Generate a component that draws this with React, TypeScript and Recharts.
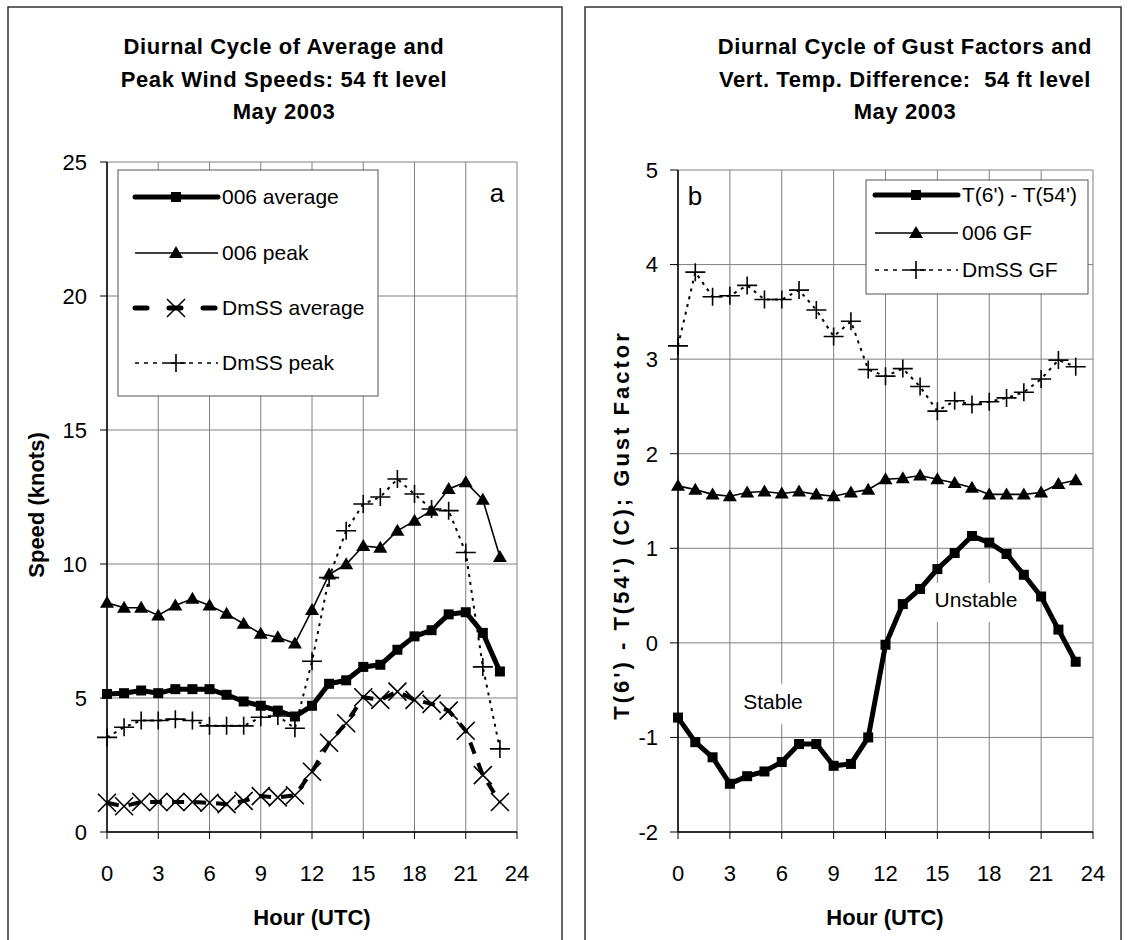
import { CartesianGrid, Line, LineChart, XAxis, YAxis } from "recharts";

const FONT = "'Liberation Sans', Arial, sans-serif";

// hours of the day (UTC)
const hours = [0, 1, 2, 3, 4, 5, 6, 7, 8, 9, 10, 11, 12, 13, 14, 15, 16, 17, 18, 19, 20, 21, 22, 23];
const hourTicks = [0, 3, 6, 9, 12, 15, 18, 21, 24];

// panel a: wind speeds (knots)
const speedTicks = [0, 5, 10, 15, 20, 25];
const avg006 = [5.15, 5.18, 5.28, 5.18, 5.33, 5.33, 5.33, 5.12, 4.87, 4.71, 4.53, 4.31, 4.71, 5.53, 5.66, 6.16, 6.24, 6.8, 7.3, 7.53, 8.12, 8.2, 7.43, 5.99];
const peak006 = [8.55, 8.37, 8.37, 8.08, 8.45, 8.7, 8.45, 8.14, 7.77, 7.4, 7.27, 7.03, 8.28, 9.61, 9.99, 10.67, 10.61, 11.24, 11.61, 11.99, 12.8, 13.05, 12.4, 10.26];
const avgDmss = [1.09, 0.96, 1.12, 1.12, 1.12, 1.12, 1.09, 1.04, 1.16, 1.34, 1.29, 1.37, 2.25, 3.33, 4.06, 5.03, 4.93, 5.24, 4.93, 4.78, 4.53, 3.78, 2.12, 1.12];
const peakDmss = [3.53, 3.91, 4.16, 4.16, 4.21, 4.16, 3.96, 3.96, 3.96, 4.28, 4.33, 3.87, 6.37, 9.49, 11.24, 12.24, 12.5, 13.17, 12.61, 12.05, 11.99, 10.43, 6.16, 3.1];

// panel b: temperature difference (C) and gust factors
const rightTicks = [-2, -1, 0, 1, 2, 3, 4, 5];
const tempDiff = [-0.79, -1.05, -1.21, -1.49, -1.41, -1.36, -1.26, -1.07, -1.07, -1.3, -1.28, -1.0, -0.02, 0.41, 0.57, 0.78, 0.95, 1.13, 1.06, 0.94, 0.72, 0.49, 0.14, -0.2];
const gf006 = [1.66, 1.62, 1.57, 1.55, 1.59, 1.6, 1.58, 1.6, 1.57, 1.55, 1.59, 1.62, 1.73, 1.74, 1.77, 1.73, 1.69, 1.64, 1.57, 1.57, 1.57, 1.59, 1.68, 1.72];
const gfDmss = [3.14, 3.92, 3.66, 3.67, 3.78, 3.63, 3.63, 3.73, 3.52, 3.24, 3.4, 2.89, 2.82, 2.9, 2.71, 2.45, 2.56, 2.52, 2.55, 2.59, 2.65, 2.79, 2.99, 2.92];

const speedRows = hours.map((h, i) => ({
  hour: h,
  avg006: avg006[i],
  peak006: peak006[i],
  avgDmss: avgDmss[i],
  peakDmss: peakDmss[i],
}));

const gustRows = hours.map((h, i) => ({
  hour: h,
  tempDiff: tempDiff[i],
  gf006: gf006[i],
  gfDmss: gfDmss[i],
}));

type P = { cx: number; cy: number };

const Square = ({ cx, cy }: P) => <rect x={cx - 5} y={cy - 5} width={10} height={10} fill="#000" />;
const Triangle = ({ cx, cy }: P) => (
  <polygon points={`${cx},${cy - 7} ${cx - 7},${cy + 5} ${cx + 7},${cy + 5}`} fill="#000" />
);
const Cross = ({ cx, cy }: P) => (
  <path d={`M${cx - 9},${cy - 9}L${cx + 9},${cy + 9}M${cx - 9},${cy + 9}L${cx + 9},${cy - 9}`} stroke="#000" strokeWidth={1.6} />
);
const Plus = ({ cx, cy }: P) => (
  <path d={`M${cx - 10},${cy}L${cx + 10},${cy}M${cx},${cy - 9}L${cx},${cy + 9}`} stroke="#000" strokeWidth={1.6} />
);

const dot = (Shape: (p: P) => any) => (p: any) => (
  <g key={`d${p.index}`}>
    <Shape cx={p.cx} cy={p.cy} />
  </g>
);

const tick = { fill: "#000", fontSize: 22, fontFamily: FONT };
const gridColor = "#808080";

function LegendRow({ x, y, text, stroke, width, dash, Shape }: any) {
  return (
    <g>
      <line x1={x} x2={x + 83} y1={y} y2={y} stroke={stroke} strokeWidth={width} strokeDasharray={dash} strokeLinecap={width > 3 ? "round" : "butt"} />
      <Shape cx={x + 41} cy={y} />
      <text x={x + 87} y={y + 7} fontSize={21} fontFamily={FONT}>
        {text}
      </text>
    </g>
  );
}

export default function App() {
  return (
    <div style={{ position: "absolute", left: 0, top: 0, width: 1128, height: 940, background: "#fff", overflow: "hidden" }}>
      <div style={{ position: "absolute", left: 0, top: 0 }}>
        <LineChart width={562} height={940} data={speedRows} margin={{ top: 162, right: 45, bottom: 68, left: 47 }}>
          <CartesianGrid stroke={gridColor} />
          <XAxis
            type="number"
            dataKey="hour"
            domain={[0, 24]}
            ticks={hourTicks}
            interval={0}
            height={40}
            tickSize={7}
            tickMargin={26}
            axisLine={{ stroke: "#000", strokeWidth: 1.5 }}
            tickLine={{ stroke: "#000" }}
            tick={tick}
          />
          <YAxis
            type="number"
            domain={[0, 25]}
            ticks={speedTicks}
            interval={0}
            width={60}
            tickSize={7}
            tickMargin={13}
            axisLine={{ stroke: "#000", strokeWidth: 1.5 }}
            tickLine={{ stroke: "#000" }}
            tick={tick}
          />
          <Line dataKey="peakDmss" stroke="#000" strokeWidth={2} strokeDasharray="3 5" dot={dot(Plus)} isAnimationActive={false} />
          <Line dataKey="avgDmss" stroke="#000" strokeWidth={4} strokeDasharray="12 10" dot={dot(Cross)} isAnimationActive={false} />
          <Line dataKey="peak006" stroke="#000" strokeWidth={1.6} dot={dot(Triangle)} isAnimationActive={false} />
          <Line dataKey="avg006" stroke="#000" strokeWidth={5} dot={dot(Square)} isAnimationActive={false} />
        </LineChart>
      </div>
      <div style={{ position: "absolute", left: 0, top: 0 }}>
        <LineChart width={1128} height={940} data={gustRows} margin={{ top: 170, right: 35, bottom: 68, left: 618 }}>
          <CartesianGrid stroke={gridColor} />
          <XAxis
            type="number"
            dataKey="hour"
            domain={[0, 24]}
            ticks={hourTicks}
            interval={0}
            height={40}
            tickSize={7}
            tickMargin={26}
            axisLine={{ stroke: "#000", strokeWidth: 1.5 }}
            tickLine={{ stroke: "#000" }}
            tick={tick}
          />
          <YAxis
            type="number"
            domain={[-2, 5]}
            ticks={rightTicks}
            interval={0}
            width={60}
            tickSize={8}
            tickMargin={12}
            axisLine={{ stroke: "#000", strokeWidth: 1.5 }}
            tickLine={{ stroke: "#000" }}
            tick={tick}
          />
          <Line dataKey="gfDmss" stroke="#000" strokeWidth={2} strokeDasharray="3 5" dot={dot(Plus)} isAnimationActive={false} />
          <Line dataKey="gf006" stroke="#000" strokeWidth={1.6} dot={dot(Triangle)} isAnimationActive={false} />
          <Line dataKey="tempDiff" stroke="#000" strokeWidth={5} dot={dot(Square)} isAnimationActive={false} />
        </LineChart>
      </div>
      <svg width={1128} height={940} style={{ position: "absolute", left: 0, top: 0, pointerEvents: "none" }}>
        {/* panel frames */}
        <rect x={8} y={7} width={554} height={960} fill="none" stroke="#333" strokeWidth={1.5} />
        <rect x={585} y={7} width={536} height={960} fill="none" stroke="#333" strokeWidth={1.5} />

        {/* titles */}
        <g fontFamily={FONT} fontSize={22} fontWeight="bold" textAnchor="middle" letterSpacing={0.6}>
          <text x={284} y={54}>Diurnal Cycle of Average and</text>
          <text x={284} y={87}>Peak Wind Speeds: 54 ft level</text>
          <text x={284} y={119}>May 2003</text>
          <text x={905} y={54}>Diurnal Cycle of Gust Factors and</text>
          <text x={905} y={87} xmlSpace="preserve">
            {"Vert. Temp. Difference:  54 ft level"}
          </text>
          <text x={905} y={119}>May 2003</text>
        </g>

        {/* axis titles */}
        <g fontFamily={FONT} fontSize={22} fontWeight="bold" textAnchor="middle">
          <text x={312} y={925}>Hour (UTC)</text>
          <text x={885} y={925}>Hour (UTC)</text>
          <text transform="translate(44,505) rotate(-90)">Speed (knots)</text>
          <text transform="translate(629,525) rotate(-90)" letterSpacing={3}>
            T(6') - T(54') (C); Gust Factor
          </text>
        </g>

        {/* panel letters */}
        <text x={497} y={202} fontFamily={FONT} fontSize={26} textAnchor="middle">a</text>
        <text x={695} y={205} fontFamily={FONT} fontSize={26} textAnchor="middle">b</text>

        {/* stability annotations */}
        <rect x={741} y={684} width={66} height={40} fill="#fff" />
        <text x={773} y={709} fontFamily={FONT} fontSize={21} textAnchor="middle">Stable</text>
        <rect x={930} y={583} width={92} height={39} fill="#fff" />
        <text x={976} y={607} fontFamily={FONT} fontSize={21} textAnchor="middle">Unstable</text>

        {/* legend a */}
        <rect x={118} y={170} width={260} height={226} fill="#fff" stroke="#555" strokeWidth={1} />
        <LegendRow x={135} y={197} text="006 average" stroke="#000" width={5} Shape={Square} />
        <LegendRow x={135} y={253} text="006 peak" stroke="#000" width={1.6} Shape={Triangle} />
        <LegendRow x={135} y={308} text="DmSS average" stroke="#000" width={5} dash="12 22" Shape={Cross} />
        <LegendRow x={135} y={363} text="DmSS peak" stroke="#000" width={1.6} dash="4 5" Shape={Plus} />

        {/* legend b */}
        <rect x={866} y={180} width={222} height={114} fill="#fff" stroke="#555" strokeWidth={1} />
        <LegendRow x={875} y={195} text="T(6') - T(54')" stroke="#000" width={5} Shape={Square} />
        <LegendRow x={875} y={233} text="006 GF" stroke="#000" width={1.6} Shape={Triangle} />
        <LegendRow x={875} y={270} text="DmSS GF" stroke="#000" width={1.6} dash="4 5" Shape={Plus} />
      </svg>
    </div>
  );
}
